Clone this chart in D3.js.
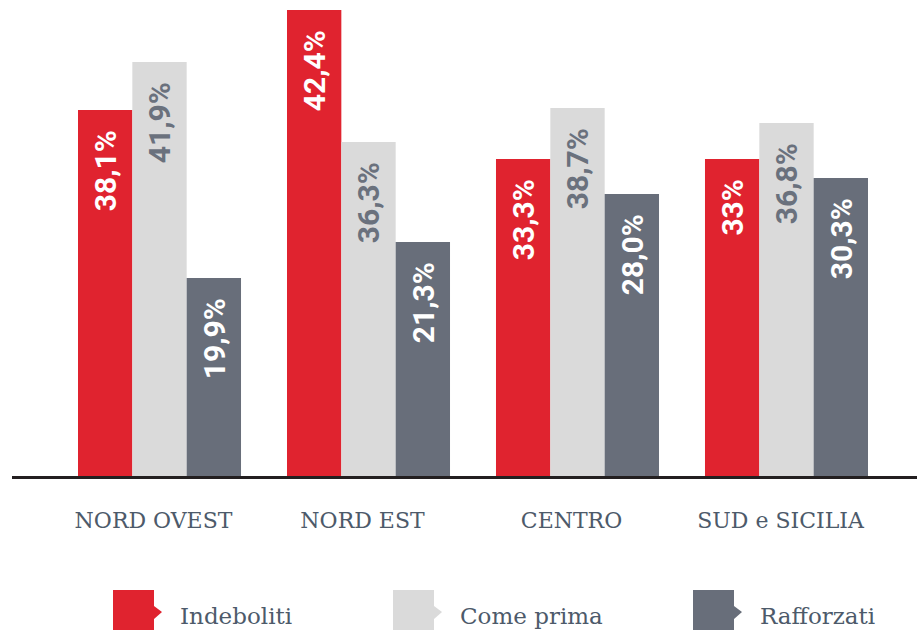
<!DOCTYPE html>
<html>
<head>
    <meta charset="utf-8">
    <style>
        body { margin: 0; background: #ffffff; }
    </style>
    <script src="https://d3js.org/d3.v7.min.js"></script>
</head>
<body>
    <div id="chart"></div>
    <script>
        // categories and series
        const regions = ["NORD OVEST", "NORD EST", "CENTRO", "SUD e SICILIA"];
        const series = ["Indeboliti", "Come prima", "Rafforzati"];

        // printed labels on the bars
        const labelsIndeboliti = ["38,1%", "42,4%", "33,3%", "33%"];
        const labelsComePrima = ["41,9%", "36,3%", "38,7%", "36,8%"];
        const labelsRafforzati = ["19,9%", "21,3%", "28,0%", "30,3%"];

        // bar lengths as drawn in the picture (the source chart does not scale them exactly to the labels)
        const barsIndeboliti = [36.6, 46.6, 31.7, 31.7];
        const barsComePrima = [41.4, 33.4, 36.8, 35.3];
        const barsRafforzati = [19.8, 23.4, 28.2, 29.8];

        const colors = ["#e0232f", "#dadada", "#686e7a"];
        const labelColors = ["#ffffff", "#6a717d", "#ffffff"];

        const width = 917, height = 630;
        const baseY = 476;

        const allLabels = [labelsIndeboliti, labelsComePrima, labelsRafforzati];
        const allBars = [barsIndeboliti, barsComePrima, barsRafforzati];

        const data = [];
        regions.forEach((r, i) => {
            series.forEach((s, j) => {
                data.push({ region: r, serie: s, idx: j, value: allBars[j][i], label: allLabels[j][i] });
            });
        });

        const svg = d3.select("#chart").append("svg")
            .attr("width", width)
            .attr("height", height);

        const x0 = d3.scaleBand()
            .domain(regions)
            .range([78, 868])
            .paddingInner(0.22)
            .paddingOuter(0);

        const x1 = d3.scaleBand()
            .domain(series)
            .range([0, x0.bandwidth()])
            .padding(0);

        const y = d3.scaleLinear()
            .domain([0, 46.6])
            .range([baseY, 10]);

        const bars = svg.append("g").selectAll("g")
            .data(data)
            .join("g")
            .attr("transform", d => `translate(${x0(d.region) + x1(d.serie)},0)`);

        bars.append("rect")
            .attr("x", 0)
            .attr("y", d => y(d.value))
            .attr("width", x1.bandwidth())
            .attr("height", d => baseY - y(d.value))
            .attr("fill", d => colors[d.idx]);

        bars.append("text")
            .attr("transform", d => `translate(${x1.bandwidth() / 2},${y(d.value) + 20}) rotate(-90)`)
            .attr("text-anchor", "end")
            .attr("dy", "0.36em")
            .style("font-family", "Roboto, sans-serif")
            .style("font-weight", "bold")
            .style("font-size", "30px")
            .attr("fill", d => labelColors[d.idx])
            .text(d => d.label);

        // baseline
        svg.append("line")
            .attr("x1", 12).attr("x2", width)
            .attr("y1", baseY + 1.5).attr("y2", baseY + 1.5)
            .attr("stroke", "#231f20")
            .attr("stroke-width", 3);

        // category labels
        const xAxis = d3.axisBottom(x0).tickSize(0).tickPadding(0);
        const ax = svg.append("g")
            .attr("transform", `translate(-6,${baseY})`)
            .call(xAxis);
        ax.select(".domain").remove();
        ax.selectAll("text")
            .attr("y", 52)
            .attr("dy", 0)
            .style("font-family", "'DejaVu Serif', serif")
            .style("font-size", "22px")
            .attr("fill", "#4d5a6a");

        // legend
        const legendX = [113, 393, 693];
        const leg = svg.append("g").selectAll("g")
            .data(series)
            .join("g")
            .attr("transform", (d, i) => `translate(${legendX[i]},590)`);

        leg.append("path")
            .attr("d", "M0,0 H41 V16 L49,22 L41,29 V44 H0 Z")
            .attr("fill", (d, i) => colors[i]);

        leg.append("text")
            .attr("x", 67)
            .attr("y", 34)
            .style("font-family", "'DejaVu Serif', serif")
            .style("font-size", "23px")
            .attr("fill", "#4d5a6a")
            .text(d => d);
    </script>
</body>
</html>
